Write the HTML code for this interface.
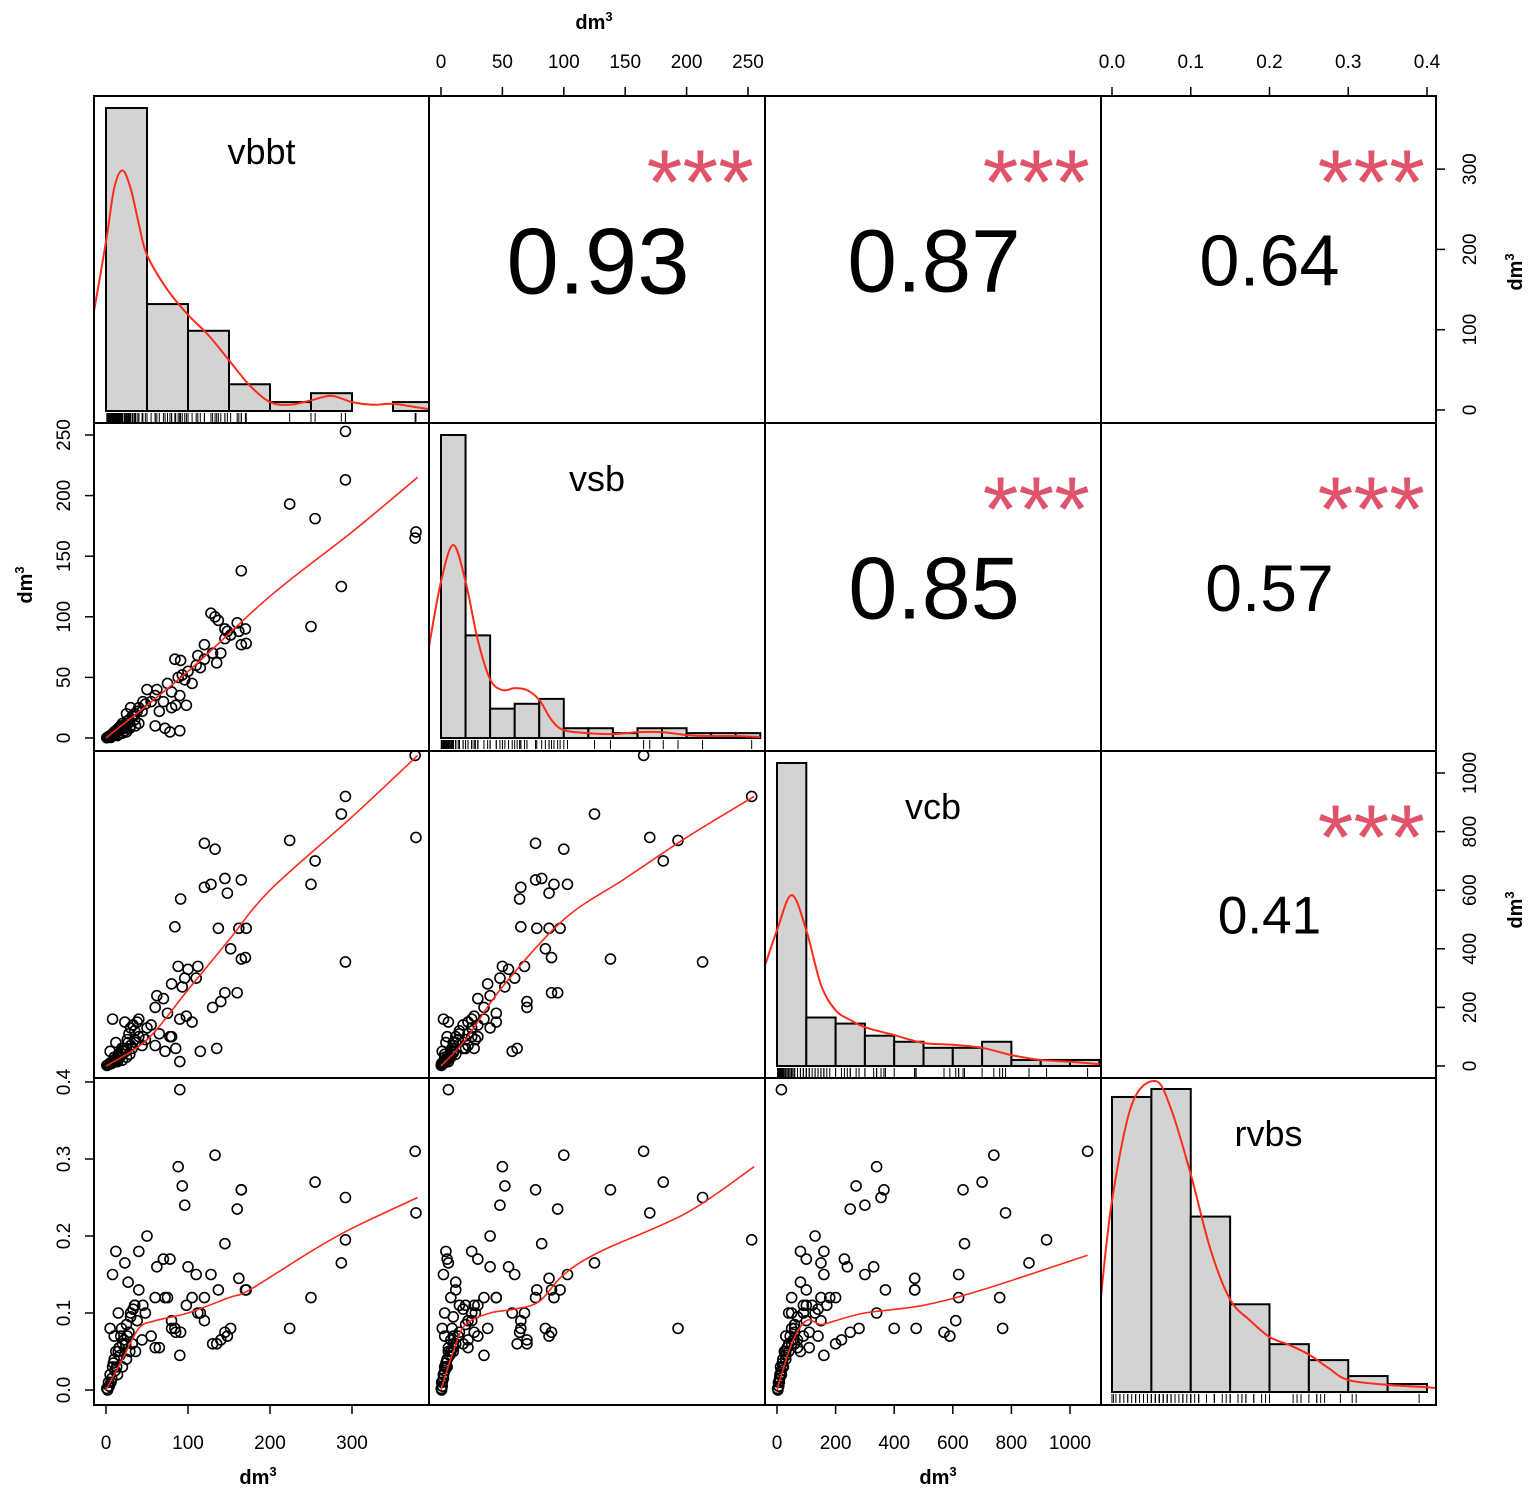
<!DOCTYPE html>
<html><head><meta charset="utf-8"><style>
html,body{margin:0;padding:0;background:#fff}
svg{display:block;font-family:"Liberation Sans",Arial,sans-serif}
</style></head><body>
<svg id="chart" width="1535" height="1495" viewBox="0 0 1535 1495" xmlns="http://www.w3.org/2000/svg"></svg>
<script>
const vbbt = [377,378,292,292,224,255,287,250,165,128,133,137,145,148,160,162,165,171,170,152,140,120,112,120,110,100,90,84,88,93,96,75,80,90,98,85,80,70,62,60,50,45,40,72,78,91,60,135,105,115,130,145,35,30,25,28,20,15,10,5,3,8,12,18,22,25,30,14,6,2,35,40,20,27,33,38,16,9,4,11,24,29,17,13,7,1,19,26,32,36,44,48,55,65,23,12,8,5,15,10];
const vsb = [165,170,253,213,193,181,125,92,138,103,100,97,82,88,95,88,77,78,90,85,70,77,68,65,60,55,6,65,50,52,48,45,38,35,27,27,25,30,40,35,40,30,25,8,5,64,10,62,45,58,70,90,20,25,20,15,12,8,5,2,1,3,6,10,8,5,10,2,0.5,0.5,15,12,4,12,18,22,6,4,1,3,10,8,7,5,2,0.2,9,14,18,10,22,28,30,22,6,4,2,1,3,3];
const vcb = [1060,780,920,355,770,700,860,620,365,620,740,470,640,590,250,470,635,470,370,400,220,760,340,610,300,330,15,475,340,270,300,180,280,160,170,60,100,230,240,200,130,100,160,50,100,570,70,60,150,50,200,250,90,130,60,110,40,30,20,10,5,12,25,45,55,30,70,15,8,3,120,100,20,80,140,150,35,18,6,14,50,40,30,22,9,2,60,90,60,80,70,90,140,110,150,80,160,50,40,30];
const rvbs = [0.31,0.23,0.195,0.25,0.08,0.27,0.165,0.12,0.26,0.15,0.305,0.13,0.19,0.07,0.235,0.145,0.26,0.13,0.13,0.08,0.065,0.12,0.1,0.09,0.15,0.16,0.39,0.08,0.29,0.265,0.24,0.12,0.08,0.045,0.11,0.075,0.09,0.17,0.16,0.12,0.2,0.11,0.18,0.12,0.17,0.075,0.055,0.06,0.12,0.1,0.06,0.075,0.11,0.1,0.085,0.075,0.06,0.05,0.04,0.02,0.01,0.03,0.05,0.07,0.065,0.04,0.095,0.02,0.01,0.0,0.11,0.13,0.03,0.14,0.105,0.09,0.055,0.035,0.005,0.025,0.06,0.05,0.045,0.03,0.015,0.002,0.08,0.07,0.06,0.05,0.065,0.1,0.07,0.055,0.165,0.18,0.15,0.08,0.1,0.07];
const varNames = ["vbbt","vsb","vcb","rvbs"];
// histograms
const histBinWidth = [50,20,100,0.05];
const vbbtCounts = [34,12,9,3,1,2,0,1];
const vsbCounts = [62,21,6,7,8,2,2,1,2,2,1,1,1];
const vcbCounts = [50,8,7,5,4,3,3,4,1,1,1];
const rvbsCounts = [37,38,22,11,6,4,2,1];
// density curves (in count units)
const vbbtDensX = [-15,0,10,20,30,40,50,75,100,125,150,175,200,225,250,275,300,325,350,380,395];
const vbbtDensY = [11,19,25,27,25,21,17.5,13.6,10.8,8.5,5.7,2.9,1,0.7,1.2,1.7,1,0.7,0.8,0.4,0.2];
const vsbDensX = [-10,0,10,20,30,40,50,60,70,80,90,100,120,140,160,180,200,220,240,260];
const vsbDensY = [18.4,32,39.5,32,20,12,9.8,10.2,9.8,7.8,3.7,1.6,1,0.8,1.2,1.2,0.6,0.4,0.4,0.2];
const vcbDensX = [-40,0,50,100,150,200,250,300,400,500,600,700,800,900,1000,1100];
const vcbDensY = [16.7,22.4,28.2,22.4,13.4,9.2,7.6,6.4,5.1,3.8,3.5,3,1.8,1,0.7,0.3];
const rvbsDensX = [-0.015,0,0.025,0.055,0.075,0.1,0.125,0.15,0.175,0.2,0.225,0.25,0.275,0.3,0.35,0.4,0.42];
const rvbsDensY = [11,24,36,39,35.5,27.3,17.9,11.6,9,6.9,5.9,4.7,3,1.5,0.9,0.6,0.4];
// loess smooth lines
const fit21X = [0,100,200,300,380], fit21Y = [0,55,117,170,215];
const fit31X = [0,50,100,150,200,300,380], fit31Y = [0,90,260,430,600,850,1060];
const fit32X = [0,20,50,100,150,200,255], fit32Y = [0,90,270,500,640,780,920];
const fit41X = [0,20,40,60,100,150,175,250,300,380], fit41Y = [0,0.04,0.08,0.09,0.1,0.12,0.13,0.18,0.21,0.25];
const fit42X = [0,10,20,40,60,80,100,130,200,255], fit42Y = [0,0.05,0.085,0.1,0.105,0.115,0.15,0.18,0.23,0.29];
const fit43X = [0,50,100,150,200,300,500,700,1060], fit43Y = [0,0.06,0.09,0.085,0.09,0.1,0.11,0.13,0.175];
// correlations
const corrValues = ["0.93","0.87","0.64","0.85","0.57","0.41"];
const corrPairs = [[0,1],[0,2],[0,3],[1,2],[1,3],[2,3]];
const corrSizes = [94,89,72,88,66,53];
// ticks
const vbbtTicks = [0,100,200,300];
const vsbTicks = [0,50,100,150,200,250];
const vcbTicks = [0,200,400,600,800,1000];
const rvbsTicks = [0.0,0.1,0.2,0.3,0.4];
const vbbtRightTicks = [0,100,200,300];
const vcbRightTicks = [0,200,400,600,800,1000];

const NS="http://www.w3.org/2000/svg";
const svg=document.getElementById('chart');
function mk(tag,attrs,parent){const e=document.createElementNS(NS,tag);for(const k in attrs)e.setAttribute(k,attrs[k]);(parent||svg).appendChild(e);return e;}
function smooth(P){
  let d='M'+P[0][0]+','+P[0][1];
  for(let i=0;i<P.length-1;i++){
    const p0=P[i-1]||P[i],p1=P[i],p2=P[i+1],p3=P[i+2]||P[i+1];
    const c1=[p1[0]+(p2[0]-p0[0])/6,p1[1]+(p2[1]-p0[1])/6];
    const c2=[p2[0]-(p3[0]-p1[0])/6,p2[1]-(p3[1]-p1[1])/6];
    d+=' C'+c1[0]+','+c1[1]+' '+c2[0]+','+c2[1]+' '+p2[0]+','+p2[1];
  }
  return d;
}
const colX=[94,429,765,1101,1436], rowY=[96,423,751,1078,1405];
const baseY=[411,738,1066,1392];
const xs=[v=>106+v*0.82, v=>441+v*1.228, v=>777+v*0.293, v=>1112+v*787.5];
const ys=[v=>410-v*0.803, v=>738-v*1.212, v=>1066-v*0.293, v=>1390-v*770];
const data=[vbbt,vsb,vcb,rvbs];
const counts=[vbbtCounts,vsbCounts,vcbCounts,rvbsCounts];
const densX=[vbbtDensX,vsbDensX,vcbDensX,rvbsDensX], densY=[vbbtDensY,vsbDensY,vcbDensY,rvbsDensY];
const fits={"1-0":[fit21X,fit21Y],"2-0":[fit31X,fit31Y],"2-1":[fit32X,fit32Y],"3-0":[fit41X,fit41Y],"3-1":[fit42X,fit42Y],"3-2":[fit43X,fit43Y]};
const defs=mk('defs',{});
for(let r=0;r<4;r++)for(let c=0;c<4;c++){
  const cp=mk('clipPath',{id:'cp'+r+c},defs);
  mk('rect',{x:colX[c],y:rowY[r],width:colX[c+1]-colX[c],height:rowY[r+1]-rowY[r]},cp);
}
// diagonals
for(let i=0;i<4;i++){
  const g=mk('g',{'clip-path':'url(#cp'+i+i+')'});
  
  
  const cnt=counts[i], mx=Math.max(...cnt), k=303/mx;
  cnt.forEach((n,b)=>{
    if(n<=0)return;
    const x0=xs[i](b*histBinWidth[i]), x1=xs[i]((b+1)*histBinWidth[i]);
    const rc=mk('rect',{x:x0,y:baseY[i]-n*k,width:x1-x0,height:n*k,fill:'#d3d3d3',stroke:'#000','stroke-width':2},g);
    
    
  });
  const pts=densX[i].map((x,j)=>[xs[i](x),baseY[i]-densY[i][j]*k]);
  const dl=mk('path',{d:smooth(pts),fill:'none',stroke:'#ff2a1a','stroke-width':2},g);
  
  
  data[i].forEach(v=>{
    const x=xs[i](v);
    const t=mk('line',{x1:x,x2:x,y1:baseY[i]+2,y2:baseY[i]+11,stroke:'#000','stroke-width':1},g);
    
    
  });
  const lab=mk('text',{x:(colX[i]+colX[i+1])/2,y:rowY[i]+68,'text-anchor':'middle','font-size':36},svg);
  lab.textContent=varNames[i];
  
  
}
// scatter panels
for(let r=1;r<4;r++)for(let c=0;c<r;c++){
  const g=mk('g',{'clip-path':'url(#cp'+r+c+')'});
  
  
  data[c].forEach((v,j)=>{
    const p=mk('circle',{cx:xs[c](v),cy:ys[r](data[r][j]),r:5,fill:'none',stroke:'#000','stroke-width':1.6},g);
    
    
  });
  const f=fits[r+'-'+c];
  const fl=mk('path',{d:smooth(f[0].map((x,j)=>[xs[c](x),ys[r](f[1][j])])),fill:'none',stroke:'#ff2a1a','stroke-width':1.6},g);
  
  
}
// correlation panels
corrPairs.forEach((p,k)=>{
  const [a,b]=p; const r=a,c=b;
  const cx=(colX[c]+colX[c+1])/2, cy=(rowY[r]+rowY[r+1])/2;
  const fs=corrSizes[k];
  const t=mk('text',{x:cx+1,y:cy+fs*0.36,'text-anchor':'middle','font-size':fs});
  t.textContent=corrValues[k];
  
  
  const s=mk('text',{x:colX[c+1]-11,y:rowY[r]+118,'text-anchor':'end','font-size':92,fill:'#DF536B'});
  s.textContent='***';
  
  
});
// panel borders
for(let r=0;r<4;r++)for(let c=0;c<4;c++){
  const b=mk('rect',{x:colX[c],y:rowY[r],width:colX[c+1]-colX[c],height:rowY[r+1]-rowY[r],fill:'none',stroke:'#000','stroke-width':2});
  
  
}
// axes
function axis(side,ticks,scale,pos,name,fmt){
  const g=mk('g',{});
  
  
  const p=ticks.map(scale);
  if(side==='top'||side==='bottom'){
    const d=side==='top'?-1:1;
    mk('line',{x1:p[0],x2:p[p.length-1],y1:pos,y2:pos,stroke:'#000','stroke-width':1.5},g);
    ticks.forEach((t,j)=>{
      mk('line',{x1:p[j],x2:p[j],y1:pos,y2:pos+d*9,stroke:'#000','stroke-width':1.5},g);
      const tx=mk('text',{x:p[j],y:side==='top'?pos-28:pos+44,'text-anchor':'middle','font-size':19},g);
      tx.textContent=fmt(t);
    });
  } else {
    const d=side==='left'?-1:1;
    mk('line',{y1:p[0],y2:p[p.length-1],x1:pos,x2:pos,stroke:'#000','stroke-width':1.5},g);
    ticks.forEach((t,j)=>{
      mk('line',{y1:p[j],y2:p[j],x1:pos,x2:pos+d*9,stroke:'#000','stroke-width':1.5},g);
      const lx=side==='left'?pos-24:pos+40;
      const tx=mk('text',{x:lx,y:p[j],'text-anchor':'middle','font-size':19,transform:'rotate(-90 '+lx+' '+p[j]+')'},g);
      tx.textContent=fmt(t);
    });
  }
}
const I=t=>String(t), F=t=>t.toFixed(1);
axis('top',vsbTicks,xs[1],96,'vsb-top-axis',I);
axis('top',rvbsTicks,xs[3],96,'rvbs-top-axis',F);
axis('bottom',vbbtTicks,xs[0],1405,'vbbt-bottom-axis',I);
axis('bottom',vcbTicks,xs[2],1405,'vcb-bottom-axis',I);
axis('left',vsbTicks,ys[1],94,'vsb-left-axis',I);
axis('left',rvbsTicks,ys[3],94,'rvbs-left-axis',F);
axis('right',vbbtRightTicks,ys[0],1436,'vbbt-right-axis',I);
axis('right',vcbRightTicks,ys[2],1436,'vcb-right-axis',I);
// unit labels
function unit(x,y,rot,name){
  const t=mk('text',{x:x,y:y,'text-anchor':'middle','font-size':20,'font-weight':'bold',transform:rot?'rotate(-90 '+x+' '+y+')':''});
  t.innerHTML='dm<tspan font-size="13" dy="-8">3</tspan>';
  
  
}
unit(594,29,false,'top-axis-title');
unit(258,1484,false,'bottom-axis-title-1');
unit(938,1484,false,'bottom-axis-title-2');
unit(32,585,true,'left-axis-title');
unit(1522,272,true,'right-axis-title-1');
unit(1522,910,true,'right-axis-title-2');
</script>
</body></html>
